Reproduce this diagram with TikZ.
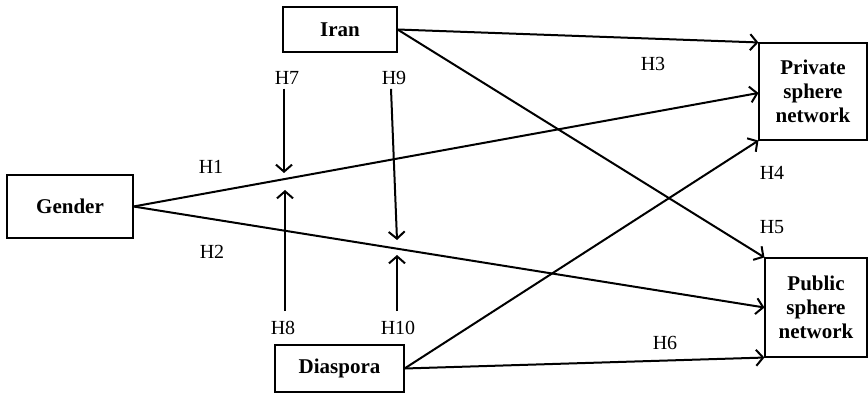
\documentclass[tikz,border=0pt]{standalone}
\usepackage{fontspec}
\setmainfont{Liberation Serif}
\usetikzlibrary{arrows.meta,positioning}
\begin{document}
\begin{tikzpicture}[x=1pt,y=-1pt,
  var/.style={draw, line width=1.1pt, font=\fontsize{21}{24}\selectfont\bfseries, align=center, inner sep=0pt},
  hyp/.style={font=\fontsize{20}{22}\selectfont, inner sep=2pt},
  link/.style={line width=2pt, -{Straight Barb[length=7pt,width=16pt,line width=2pt]}}]
\useasboundingbox (0,0) rectangle (868,393);
\node[var, minimum width=114pt, minimum height=45pt] (iran) at (340,29.5) {Iran};
\node[var, minimum width=126pt, minimum height=63pt] (gen)  at (70,206.5) {Gender};
\node[var, minimum width=129pt, minimum height=47pt] (dia)  at (339.5,368.5) {Diaspora};
\node[var, minimum width=108pt, minimum height=97pt] (prv)  at (813,91.5) {Private\\sphere\\network};
\node[var, minimum width=102pt, minimum height=99pt] (pub)  at (816,307.5) {Public\\sphere\\network};

\node[hyp] (h1)  at (211,167) {H1};
\node[hyp] (h2)  at (212,252) {H2};
\node[hyp] (h3)  at (653,64)  {H3};
\node[hyp] (h4)  at (772,173) {H4};
\node[hyp] (h5)  at (772,227) {H5};
\node[hyp] (h6)  at (665,343) {H6};
\node[hyp] (h7)  at (287,78)  {H7};
\node[hyp] (h9)  at (394,78)  {H9};
\node[hyp] (h8)  at (283,328) {H8};
\node[hyp] (h10) at (398,328) {H10};

\coordinate (m7)  at (284,173);
\coordinate (m8)  at (285,190);
\coordinate (m9)  at (397,240);
\coordinate (m10) at (397,255);

\draw (iran.east) edge[link] (prv.north west)
      (iran.east) edge[link] (pub.north west)
      (gen.east)  edge[link] ([yshift=-1.5pt]prv.west)
      (gen.east)  edge[link] (pub.west)
      (dia.east)  edge[link] (prv.south west)
      (dia.east)  edge[link] (pub.south west);

\draw[link] (h7.south) ++(-3,2) -- (m7);
\draw[link] (h9.south) ++(-3,2) -- (m9);
\draw[link, shorten <=8pt] (h8.north) ++(2,0) -- (m8);
\draw[link, shorten <=8pt] (h10.north) ++(-1,0) -- (m10);
\end{tikzpicture}
\end{document}
